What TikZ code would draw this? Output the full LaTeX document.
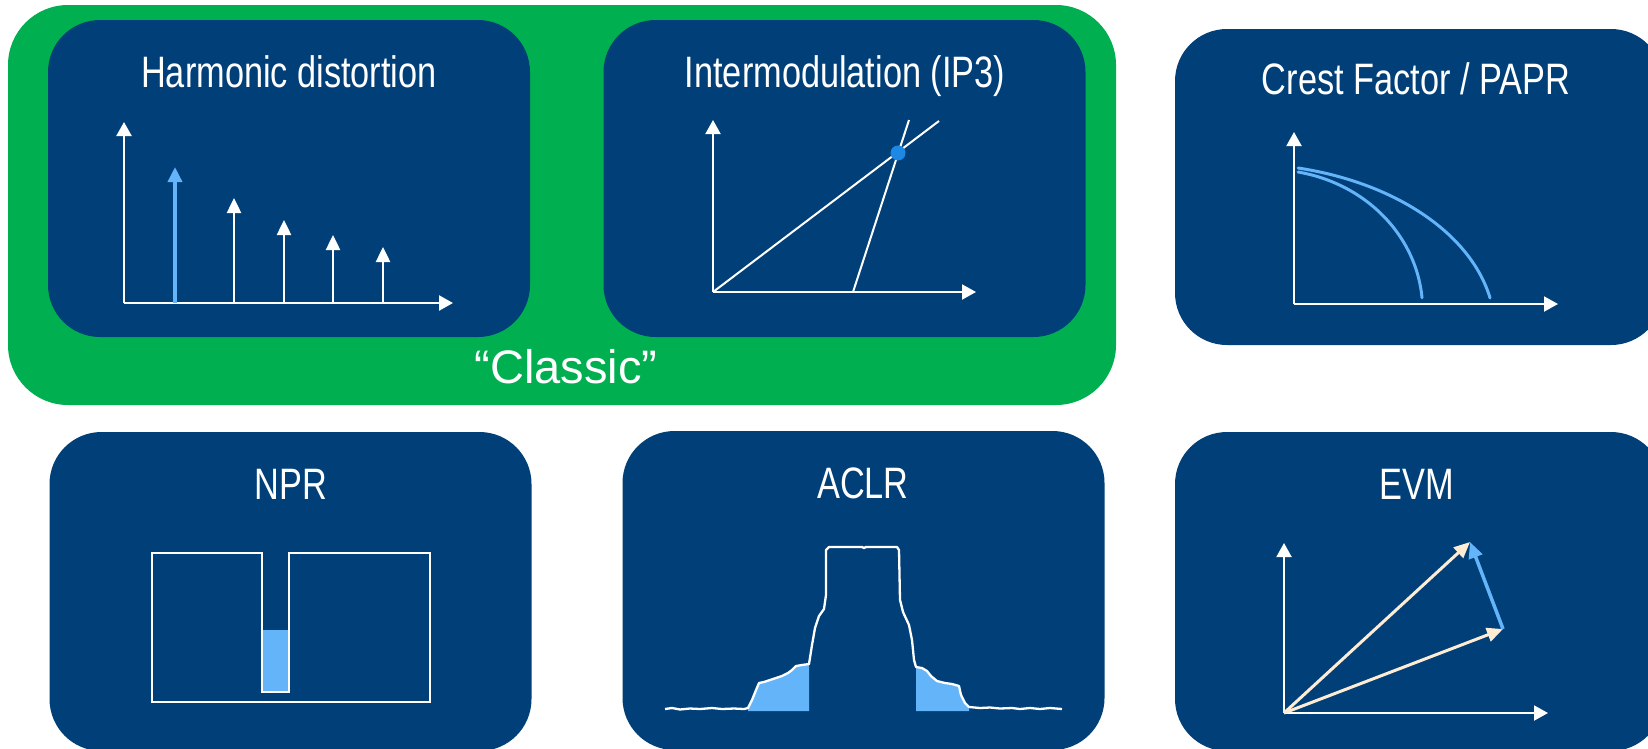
\documentclass[tikz,border=0pt]{standalone}
\usepackage{fontspec}
\setmainfont{Liberation Sans}
\newfontfamily\condfont[FakeStretch=0.78]{Liberation Sans}
\usetikzlibrary{arrows.meta}
\definecolor{navy}{RGB}{0,63,120}
\definecolor{grn}{RGB}{0,176,80}
\definecolor{lblue}{RGB}{100,180,250}
\definecolor{dotblue}{RGB}{30,136,229}
\definecolor{cream}{RGB}{255,236,212}
\begin{document}
\begin{tikzpicture}[x=1pt,y=-1pt,
  panel/.style={fill=navy, rounded corners=52pt, inner sep=0pt, draw=none,
    minimum width=482pt, minimum height=317pt},
  title/.style={text=white, font=\condfont\fontsize{44}{44}\selectfont,
    anchor=base, inner sep=0pt},
  tip/.style={-{Triangle[width=15pt,length=14pt]}},
  axis/.style={tip, white, line width=2.5pt},
  spike/.style={-{Triangle[width=14pt,length=15pt]}, white, line width=2.5pt},
  trace/.style={white, line width=2.3pt, line join=round},
  vec/.style={-{Triangle[width=14pt,length=16pt]}, line width=3pt}
]
\useasboundingbox (0,0) rectangle (1648,748);
\fill[white] (0,0) rectangle (1648,748);

% green group of the classic measurements
\fill[grn, rounded corners=60pt] (8,5) rectangle (1116,405);
\node[text=white, font=\fontsize{47}{47}\selectfont, anchor=base, inner sep=0pt]
  (classic) at (566,383) {“Classic”};

% panels
\node[panel] (hd) at (289,178.5) {};
\node[panel] (ip3) at (844.5,178.5) {};
\node[panel, minimum width=488pt, minimum height=316pt] (cf) at (1419,187) {};
\node[panel, minimum height=319pt] (npr) at (290.5,591.5) {};
\node[panel, minimum height=319pt] (aclr) at (863.5,590.5) {};
\node[panel, minimum width=488pt, minimum height=319pt] (evm) at (1419,591.5) {};

% titles
\node[title] (hdT) at (289,87) {Harmonic distortion};
\node[title] (ip3T) at (845,87) {Intermodulation (IP3)};
\node[title] (cfT) at (1416,94) {Crest Factor / PAPR};
\node[title] (nprT) at (291,499) {NPR};
\node[title] (aclrT) at (863,498) {ACLR};
\node[title] (evmT) at (1417,499) {EVM};

% harmonic distortion: fundamental and harmonics
\coordinate (hdO) at (124,303);
\draw[axis] (hdO) -- (124,122);
\draw[axis] (hdO) -- (453,303);
\draw[spike, lblue, line width=3.5pt] (175,303) -- (175,167);
\foreach \x/\y in {234/198, 284/220, 333/235, 383/247}
  \draw[spike] (\x,303) -- (\x,\y);

% intermodulation: fundamental and third-order lines
\coordinate (ipO) at (713,292);
\draw[axis, line width=2pt] (ipO) -- (713,120);
\draw[axis, line width=2pt] (ipO) -- (976,292);
\draw[white, line width=2pt] (ipO) -- (939,121);
\draw[white, line width=2pt] (853,292) -- (909,120);
\fill[dotblue] (898,153) circle (7.5pt);

% crest factor: CCDF curves (elliptic arcs)
\coordinate (cfO) at (1294,304);
\draw[axis, line width=2pt] (cfO) -- (1294,132);
\draw[axis, line width=2pt] (cfO) -- (1558,304);
\draw[lblue, line width=3pt, line cap=round]
  plot[domain=79.4:5, samples=50] ({1270+152.6*cos(\x)}, {310-140.4*sin(\x)});
\draw[lblue, line width=3pt, line cap=round]
  plot[domain=76.8:11.1, samples=50] ({1240+254.8*cos(\x)}, {330-166.4*sin(\x)});

% noise power ratio: notched noise band
\fill[lblue] (262,630) rectangle (289,692);
\draw[white, line width=2pt, line join=miter]
  (152,553) -- (262,553) -- (262,692) -- (289,692) -- (289,553)
  -- (430,553) -- (430,702) -- (152,702) -- cycle;

% adjacent channel leakage
\fill[lblue] (748,711) -- (748,708) -- (752,700) -- (756,690) -- (759,683) -- (764,682)
  -- (770,680) -- (776,678) -- (782,676) -- (788,673) -- (792,670) -- (796,666)
  -- (802,665) -- (809,664) -- (809,711) -- cycle;
\fill[lblue] (916,711) -- (916,667) -- (922,668) -- (927,671) -- (931,676) -- (937,681)
  -- (945,683) -- (952,684) -- (959,686) -- (961,695) -- (965,703) -- (969,707)
  -- (969,711) -- cycle;
\draw[trace] (665,709) -- (672,708) -- (680,709.5) -- (690,708.5) -- (700,709) -- (712,708)
  -- (722,709) -- (734,708.5) -- (744,709) -- (748,708) -- (752,700) -- (756,690)
  -- (759,683) -- (764,682) -- (770,680) -- (776,678) -- (782,676) -- (788,673)
  -- (792,670) -- (796,666) -- (802,665) -- (809,664) -- (812,645) -- (815,628)
  -- (819,616) -- (824,609) -- (826,595) -- (826,550) -- (829,547) -- (862,547)
  -- (864,548) -- (866,547) -- (897,547) -- (899,550) -- (900,600) -- (903,612)
  -- (909,625) -- (912,640) -- (914,660) -- (916,667) -- (922,668) -- (927,671)
  -- (931,676) -- (937,681) -- (945,683) -- (952,684) -- (959,686) -- (961,695)
  -- (965,703) -- (969,707) -- (980,708) -- (990,707.5) -- (1000,708.5) -- (1012,708)
  -- (1020,709) -- (1030,708) -- (1040,709) -- (1050,708) -- (1062,709);

% error vector magnitude
\coordinate (evO) at (1284,713);
\coordinate (meas) at (1470,542);
\coordinate (ref) at (1503,629);
\draw[axis, line width=2pt] (evO) -- (1284,543);
\draw[axis, line width=2pt] (evO) -- (1548,713);
\draw[vec, cream] (evO) -- (meas);
\draw[vec, cream] (evO) -- (ref);
\draw[vec, lblue, line width=3.5pt] (ref) -- (meas);
\end{tikzpicture}
\end{document}
